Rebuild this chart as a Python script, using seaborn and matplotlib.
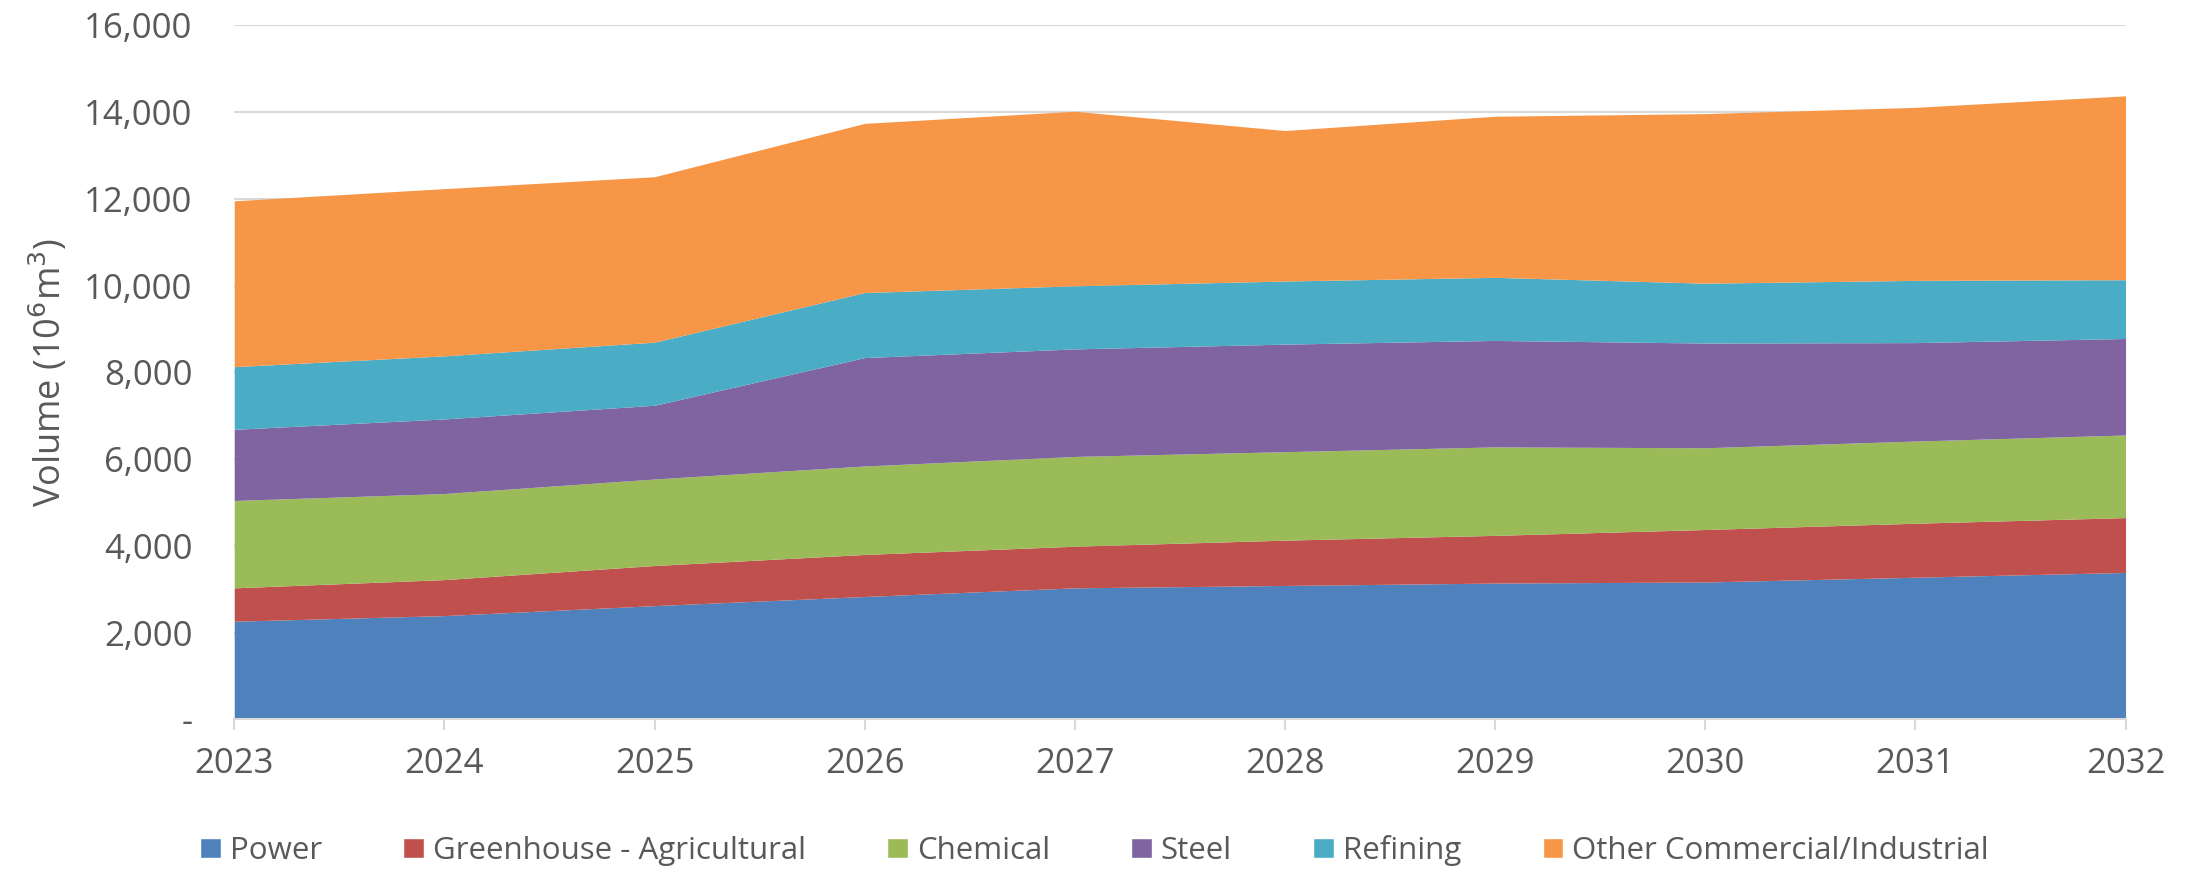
import numpy as np
import pandas as pd
import seaborn as sns
import matplotlib.pyplot as plt
from matplotlib.ticker import FuncFormatter
from matplotlib.patches import Patch

years = [2023, 2024, 2025, 2026, 2027, 2028, 2029, 2030, 2031, 2032]
sectors = ['Power', 'Greenhouse - Agricultural', 'Chemical', 'Steel', 'Refining',
           'Other Commercial/Industrial']
power = [2260, 2390, 2620, 2830, 3030, 3085, 3140, 3165, 3275, 3385]
greenhouse = [770, 830, 925, 970, 960, 1045, 1100, 1210, 1245, 1265]
chemical = [2015, 1985, 1995, 2040, 2070, 2040, 2040, 1885, 1895, 1905]
steel = [1640, 1720, 1700, 2500, 2480, 2480, 2455, 2415, 2270, 2225]
refining = [1445, 1455, 1455, 1500, 1455, 1455, 1455, 1380, 1435, 1355]
other = [3825, 3855, 3815, 3900, 4025, 3470, 3715, 3910, 3990, 4240]
colors = ['#4F81BD', '#C0504D', '#9BBB59', '#8064A2', '#4BACC6', '#F79646']

df = pd.DataFrame({'Year': years, 'Power': power, 'Greenhouse - Agricultural': greenhouse,
                   'Chemical': chemical, 'Steel': steel, 'Refining': refining,
                   'Other Commercial/Industrial': other})

sns.set_theme(style='whitegrid')
plt.rcParams['font.family'] = ['Open Sans', 'DejaVu Sans']

fig = plt.figure(figsize=(21.89, 8.75), dpi=100)
ax = fig.add_axes([0.107, 0.178, 0.864, 0.793])
ax.stackplot(df['Year'], [df[s] for s in sectors], colors=colors, linewidth=0)
ax.set_axisbelow(True)

ax.set_xlim(2023, 2032)
ax.set_ylim(0, 16000)
ax.set_xticks(years)
ax.set_yticks(range(0, 16001, 2000))
ax.yaxis.set_major_formatter(FuncFormatter(lambda v, p: '-' if v == 0 else f'{int(v):,}'))
ax.grid(axis='y', color='#D9D9D9', linewidth=1.5)
ax.grid(axis='x', visible=False)
sns.despine(ax=ax, left=True, top=True, right=True)
ax.spines['bottom'].set_color('#D9D9D9')
ax.spines['bottom'].set_linewidth(1.5)
ax.tick_params(axis='x', colors='#595959', labelsize=25, length=8, width=1.5,
               direction='out', bottom=True, color='#D9D9D9', pad=12)
ax.tick_params(axis='y', colors='#595959', labelsize=25, length=0, pad=30)
ax.set_ylabel('Volume (10$^6$m$^3$)', fontsize=26, color='#595959', labelpad=10)
ax.set_facecolor('white')

handles = [Patch(facecolor=c, label=s) for s, c in zip(sectors, colors)]
fig.legend(handles=handles, loc='center', bbox_to_anchor=(0.5, 0.028), ncol=6,
           frameon=False, fontsize=22.5, labelcolor='#595959', handlelength=0.65,
           handleheight=0.65, handletextpad=0.3, columnspacing=2.6)

fig.savefig('out.png', dpi=100, facecolor='white')
